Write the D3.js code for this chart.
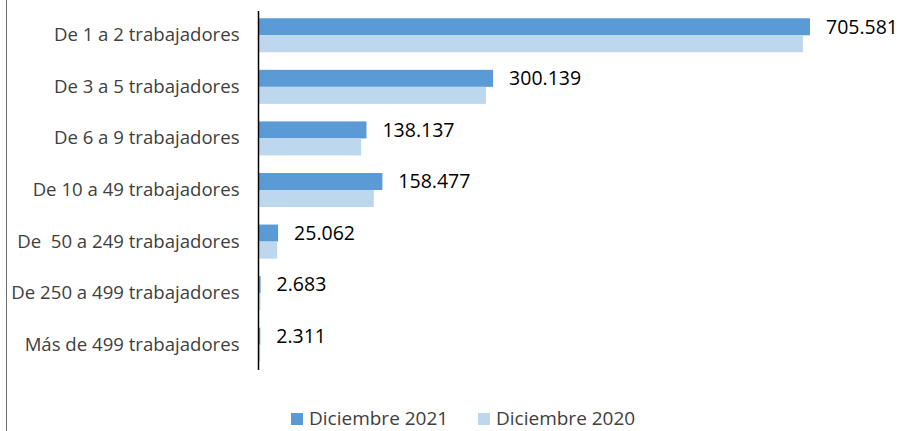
<!DOCTYPE html>
<html lang="es">
<head>
<meta charset="UTF-8">
<title>Empresas por tamaño</title>
<script src="https://cdn.jsdelivr.net/npm/d3@7"></script>
<style>
  body{margin:0;background:#fff;}
  svg{display:block;font-family:"Open Sans", sans-serif;}
</style>
</head>
<body>
<div class="chart"></div>
<script>
// data
const categories=['De 1 a 2 trabajadores','De 3 a 5 trabajadores','De 6 a 9 trabajadores','De 10 a 49 trabajadores','De  50 a 249 trabajadores','De 250 a 499 trabajadores','Más de 499 trabajadores']
const dic2021=[705581,300139,138137,158477,25062,2683,2311]
const dic2020=[696500,291000,131300,147500,23900,2500,2200]
const seriesNames=['Diciembre 2021','Diciembre 2020']
const seriesColors=['#5b9bd5','#bdd7ee']

const W=900,H=431
const x0=258.5
let svg=d3.select('.chart').append('svg').attr('width',W).attr('height',H)

let xScale=d3.scaleLinear().domain([0,705581]).range([x0,810])
let yScale=d3.scaleBand().domain(categories).range([10,370]).paddingInner(0.34).paddingOuter(0.16)
let sub=d3.scaleBand().domain(seriesNames).range([0,yScale.bandwidth()])
const es=d3.formatLocale({decimal:',',thousands:'.',grouping:[3],currency:['','€']})
const fmt=es.format(',d')

// frame edge
svg.append('line').attr('x1',6.5).attr('x2',6.5).attr('y1',0).attr('y2',H)
  .attr('stroke','#6f6f6f').attr('stroke-width',1)

// bars
const series=[dic2021,dic2020]
series.forEach((vals,s)=>{
  svg.append('g').selectAll('rect').data(vals).join('rect')
    .attr('x',x0)
    .attr('y',(d,i)=>yScale(categories[i])+sub(seriesNames[s]))
    .attr('width',d=>xScale(d)-x0)
    .attr('height',sub.bandwidth())
    .attr('fill',seriesColors[s])
})

// value labels (2021)
svg.append('g').selectAll('text').data(dic2021).join('text')
  .attr('x',d=>xScale(d)+16)
  .attr('y',(d,i)=>yScale(categories[i])+sub(seriesNames[0])+sub.bandwidth()/2)
  .attr('dy','0.35em')
  .attr('font-size',19.5).attr('fill','#000')
  .text(d=>fmt(d))

// category axis
let yAxis=d3.axisLeft(yScale).tickSize(0).tickPadding(19)
let ga=svg.append('g').attr('transform','translate('+x0+',0)').call(yAxis)
ga.select('.domain').attr('stroke','#000').attr('stroke-width',1.5).attr('d','M0,11V370')
ga.selectAll('text').attr('font-size',18.6).attr('fill','#404040')
  .attr('font-family','"Open Sans", sans-serif').style('white-space','pre')

// legend
let legX=[291,478]
let lg=svg.append('g')
seriesNames.forEach((n,i)=>{
  lg.append('rect').attr('x',legX[i]).attr('y',413).attr('width',12).attr('height',12).attr('fill',seriesColors[i])
  lg.append('text').attr('x',legX[i]+18).attr('y',425)
    .attr('font-size',19).attr('fill','#404040').text(n)
})
</script>
</body>
</html>
